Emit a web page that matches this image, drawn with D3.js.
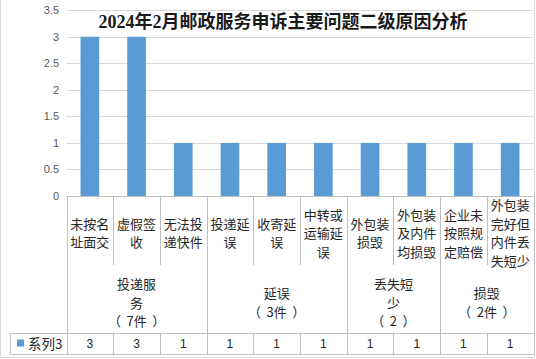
<!DOCTYPE html>
<html><head><meta charset="utf-8">
<script src="https://cdn.jsdelivr.net/npm/d3@7"></script>
<style>body{margin:0;background:#fff}svg{display:block}</style>
</head><body>
<script>
const title = "2024年2月邮政服务申诉主要问题二级原因分析";
const categories = ["未按名址面交","虚假签收","无法投递快件","投递延误","收寄延误","中转或运输延误","外包装损毁","外包装及内件均损毁","企业未按照规定赔偿","外包装完好但内件丢失短少"];
const groups = ["投递服务（7件）","延误（3件）","丢失短少（2）","损毁（2件）"];
const groupSizes = [3,3,2,2];
const seriesName = "系列3";
const values = [3,3,1,1,1,1,1,1,1,1];
const yTicks = [0,0.5,1,1.5,2,2.5,3,3.5];

const W=536,H=359;
const svg=d3.select("body").append("svg").attr("width",W).attr("height",H);
const cjk='"Noto Sans CJK SC","Noto Sans",sans-serif';
const left=66.5,right=533.5,y0=196,yTop=10.2;
const x=d3.scaleBand().domain(categories).range([left,right]).padding(0);
const y=d3.scaleLinear().domain([0,3.5]).range([y0,yTop]);
const lineC="#bfbfbf", gridC="#d9d9d9";

svg.append("line").attr("x1",0.5).attr("x2",0.5).attr("y1",0).attr("y2",358).attr("stroke",gridC);
svg.append("line").attr("x1",534.5).attr("x2",534.5).attr("y1",0).attr("y2",358).attr("stroke",gridC);
svg.append("line").attr("x1",0.5).attr("x2",534.5).attr("y1",357.5).attr("y2",357.5).attr("stroke",gridC);

svg.append("g").selectAll("line").data(yTicks.filter(d=>d>0)).join("line")
  .attr("x1",left).attr("x2",right).attr("y1",d=>Math.round(y(d))+0.5).attr("y2",d=>Math.round(y(d))+0.5)
  .attr("stroke",gridC);
svg.append("g").selectAll("text").data(yTicks).join("text")
  .attr("x",59).attr("y",d=>y(d)).attr("dy","0.35em").attr("text-anchor","end")
  .attr("font-family",'"Liberation Sans",Arial,sans-serif').attr("font-size",11).attr("fill","#595959")
  .text(d=>d);

const bw=x.bandwidth()*0.4;
svg.append("g").selectAll("rect").data(values).join("rect")
  .attr("x",(d,i)=>x(categories[i])+x.bandwidth()/2-bw/2).attr("width",bw)
  .attr("y",d=>y(d)).attr("height",d=>y0-y(d)).attr("fill","#5B9BD5");

svg.append("text").attr("x",283).attr("y",22).attr("dy","0.35em").attr("text-anchor","middle")
  .attr("font-family",'"Liberation Serif","Noto Sans CJK SC",serif').attr("font-weight","bold")
  .attr("font-size",18).attr("fill","#1a1a1a").text(title);

const g=svg.append("g").attr("stroke",lineC).attr("fill","none");
g.append("line").attr("x1",left).attr("x2",right).attr("y1",y0+0.5).attr("y2",y0+0.5);
const tTop=333.5,tBot=354.5,catBot=265;
const bounds=[left].concat(categories.map(c=>x(c)+x.bandwidth()));
const groupEnds=new Set(); let acc=0; groupEnds.add(0); groupSizes.forEach(s=>{acc+=s;groupEnds.add(acc);});
bounds.forEach((b,i)=>{
  const bx=Math.round(b)+0.5;
  if(groupEnds.has(i)) g.append("line").attr("x1",bx).attr("x2",bx).attr("y1",y0).attr("y2",tBot);
  else { g.append("line").attr("x1",bx).attr("x2",bx).attr("y1",y0).attr("y2",catBot);
         g.append("line").attr("x1",bx).attr("x2",bx).attr("y1",tTop).attr("y2",tBot); }
});
g.append("line").attr("x1",10.5).attr("x2",right).attr("y1",tTop).attr("y2",tTop);
g.append("line").attr("x1",10.5).attr("x2",right).attr("y1",tBot).attr("y2",tBot);
g.append("line").attr("x1",10.5).attr("x2",10.5).attr("y1",tTop).attr("y2",tBot);

function chunk(s,n){const a=Array.from(s),r=[];for(let i=0;i<a.length;i+=n)r.push(a.slice(i,i+n).join(""));return r;}
function multiline(sel,lines,cx,cy,lh){
  const n=lines.length;
  lines.forEach((l,i)=>{
    const t=sel.append("text").attr("text-anchor","middle").attr("font-family",cjk)
      .attr("font-size",13).attr("fill","#262626")
      .attr("x",cx).attr("y",cy+(i-(n-1)/2)*lh).attr("dy","0.36em");
    const pm=l.match(/^（(.*)）$/);
    if(pm){
      t.append("tspan").text("（");
      t.append("tspan").attr("dx",5.5).text(pm[1]);
      t.append("tspan").attr("dx",5.5).text("）");
    } else t.text(l);
  });
}
categories.forEach(c=>multiline(svg,chunk(c,3),x(c)+x.bandwidth()/2,233.5,18.5));
let start=0;
groups.forEach((gname,i)=>{
  const s=groupSizes[i];
  const x1=x(categories[start]), x2=x(categories[start+s-1])+x.bandwidth();
  const m=gname.match(/^(.*?)(（.*）)$/);
  const lines=chunk(m[1],3).concat([m[2]]);
  multiline(svg,lines,(x1+x2)/2,303,18.5);
  start+=s;
});
svg.append("rect").attr("x",17).attr("y",339.5).attr("width",7).attr("height",7).attr("fill","#5B9BD5");
svg.append("text").attr("x",28).attr("y",344).attr("dy","0.36em").attr("font-family",cjk).attr("font-size",13.5).attr("fill","#262626").text(seriesName);
svg.append("g").selectAll("text").data(values).join("text")
  .attr("x",(d,i)=>x(categories[i])+x.bandwidth()/2).attr("y",344).attr("dy","0.36em").attr("text-anchor","middle")
  .attr("font-family",'"Liberation Sans",Arial,sans-serif').attr("font-size",12).attr("fill","#262626").text(d=>d);
</script>
</body></html>
